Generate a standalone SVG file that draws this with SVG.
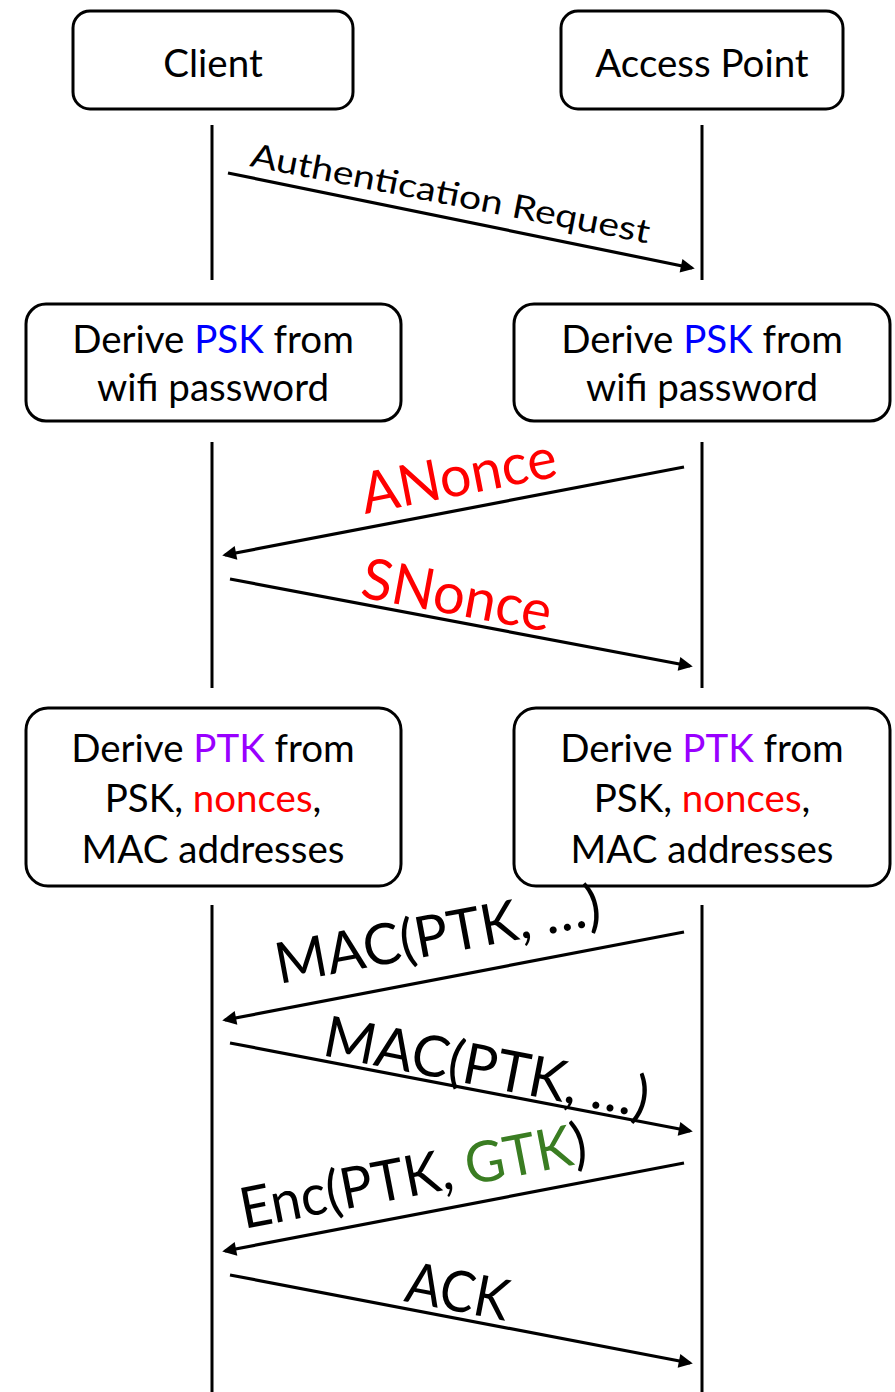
<svg xmlns="http://www.w3.org/2000/svg" width="895" height="1392" viewBox="0 0 895 1392">
  <defs>
    <style>
      .box { fill: #ffffff; stroke: #000000; stroke-width: 3; }
      .life { stroke: #000000; stroke-width: 3; fill: none; }
      .msg { stroke: #000000; stroke-width: 3.2; fill: none; marker-end: url(#head); }
      .t { font-family: Lato, "Open Sans", "Liberation Sans", sans-serif; fill: #000000; }
      .box-t { font-size: 38.5px; text-anchor: middle; }
      .lbl { font-size: 57px; }
      .red { fill: #FF0000; }
      .blue { fill: #0000FF; }
      .purple { fill: #9900FF; }
      .green { fill: #3A7D22; }
    </style>
    <marker id="head" viewBox="0 0 10 10" refX="8" refY="5" markerUnits="userSpaceOnUse" markerWidth="21" markerHeight="14" orient="auto">
      <path d="M0,0 L10,5 L0,10 z" fill="#000000"/>
    </marker>
  </defs>

  <!-- participants -->
  <g id="client">
    <rect class="box" x="73" y="11" width="280" height="98" rx="17"/>
    <text class="t box-t" x="213" y="77">Client</text>
  </g>
  <g id="access-point">
    <rect class="box" x="561" y="11" width="282" height="98" rx="17"/>
    <text class="t box-t" x="702" y="77">Access Point</text>
  </g>

  <!-- PSK derivation -->
  <g id="client-psk">
    <rect class="box" x="26" y="304" width="375" height="117" rx="20"/>
    <text class="t box-t" x="213" y="353">Derive <tspan class="blue">PSK</tspan> from</text>
    <text class="t box-t" x="213" y="401">wifi password</text>
  </g>
  <g id="ap-psk">
    <rect class="box" x="514" y="304" width="376" height="117" rx="20"/>
    <text class="t box-t" x="702" y="353">Derive <tspan class="blue">PSK</tspan> from</text>
    <text class="t box-t" x="702" y="401">wifi password</text>
  </g>

  <!-- PTK derivation -->
  <g id="client-ptk">
    <rect class="box" x="26" y="708" width="375" height="178" rx="22"/>
    <text class="t box-t" x="213" y="762">Derive <tspan class="purple">PTK</tspan> from</text>
    <text class="t box-t" x="213" y="812">PSK, <tspan class="red">nonces</tspan>,</text>
    <text class="t box-t" x="213" y="863">MAC addresses</text>
  </g>
  <g id="ap-ptk">
    <rect class="box" x="514" y="708" width="376" height="178" rx="22"/>
    <text class="t box-t" x="702" y="762">Derive <tspan class="purple">PTK</tspan> from</text>
    <text class="t box-t" x="702" y="812">PSK, <tspan class="red">nonces</tspan>,</text>
    <text class="t box-t" x="702" y="863">MAC addresses</text>
  </g>

  <!-- lifelines and messages -->
  <g id="connectors">
    <line class="life" x1="212" y1="125" x2="212" y2="280"/>
    <line class="life" x1="702" y1="125" x2="702" y2="280"/>
    <line class="life" x1="212" y1="442" x2="212" y2="688"/>
    <line class="life" x1="702" y1="442" x2="702" y2="688"/>
    <line class="life" x1="212" y1="905" x2="212" y2="1392"/>
    <line class="life" x1="702" y1="905" x2="702" y2="1392"/>

    <line class="msg" x1="228" y1="173" x2="692" y2="268"/>
    <line class="msg" x1="684" y1="467" x2="225" y2="555"/>
    <line class="msg" x1="230" y1="579" x2="690" y2="666"/>
    <line class="msg" x1="684" y1="932" x2="225" y2="1020"/>
    <line class="msg" x1="230" y1="1043" x2="690" y2="1131"/>
    <line class="msg" x1="684" y1="1163" x2="225" y2="1251"/>
    <line class="msg" x1="230" y1="1275" x2="690" y2="1363"/>
  </g>

  <!-- message labels -->
  <g id="labels">
    <text class="t" font-size="33" transform="translate(249,166) rotate(11)" textLength="406" lengthAdjust="spacingAndGlyphs">Authentication Request</text>
    <text class="t lbl red" transform="translate(365,514) rotate(-11)" textLength="198" lengthAdjust="spacingAndGlyphs">ANonce</text>
    <text class="t lbl red" transform="translate(359,597) rotate(10.5)" textLength="192" lengthAdjust="spacingAndGlyphs">SNonce</text>
    <text class="t lbl" transform="translate(279,984) rotate(-10.5)" textLength="330" lengthAdjust="spacingAndGlyphs">MAC(PTK, …)</text>
    <text class="t lbl" transform="translate(321,1055) rotate(11)" textLength="330" lengthAdjust="spacingAndGlyphs">MAC(PTK, …)</text>
    <text class="t lbl" transform="translate(244,1229) rotate(-11)" textLength="352" lengthAdjust="spacingAndGlyphs">Enc(PTK, <tspan class="green">GTK</tspan>)</text>
    <text class="t lbl" transform="translate(403,1301) rotate(11)" textLength="104" lengthAdjust="spacingAndGlyphs">ACK</text>
  </g>
</svg>
